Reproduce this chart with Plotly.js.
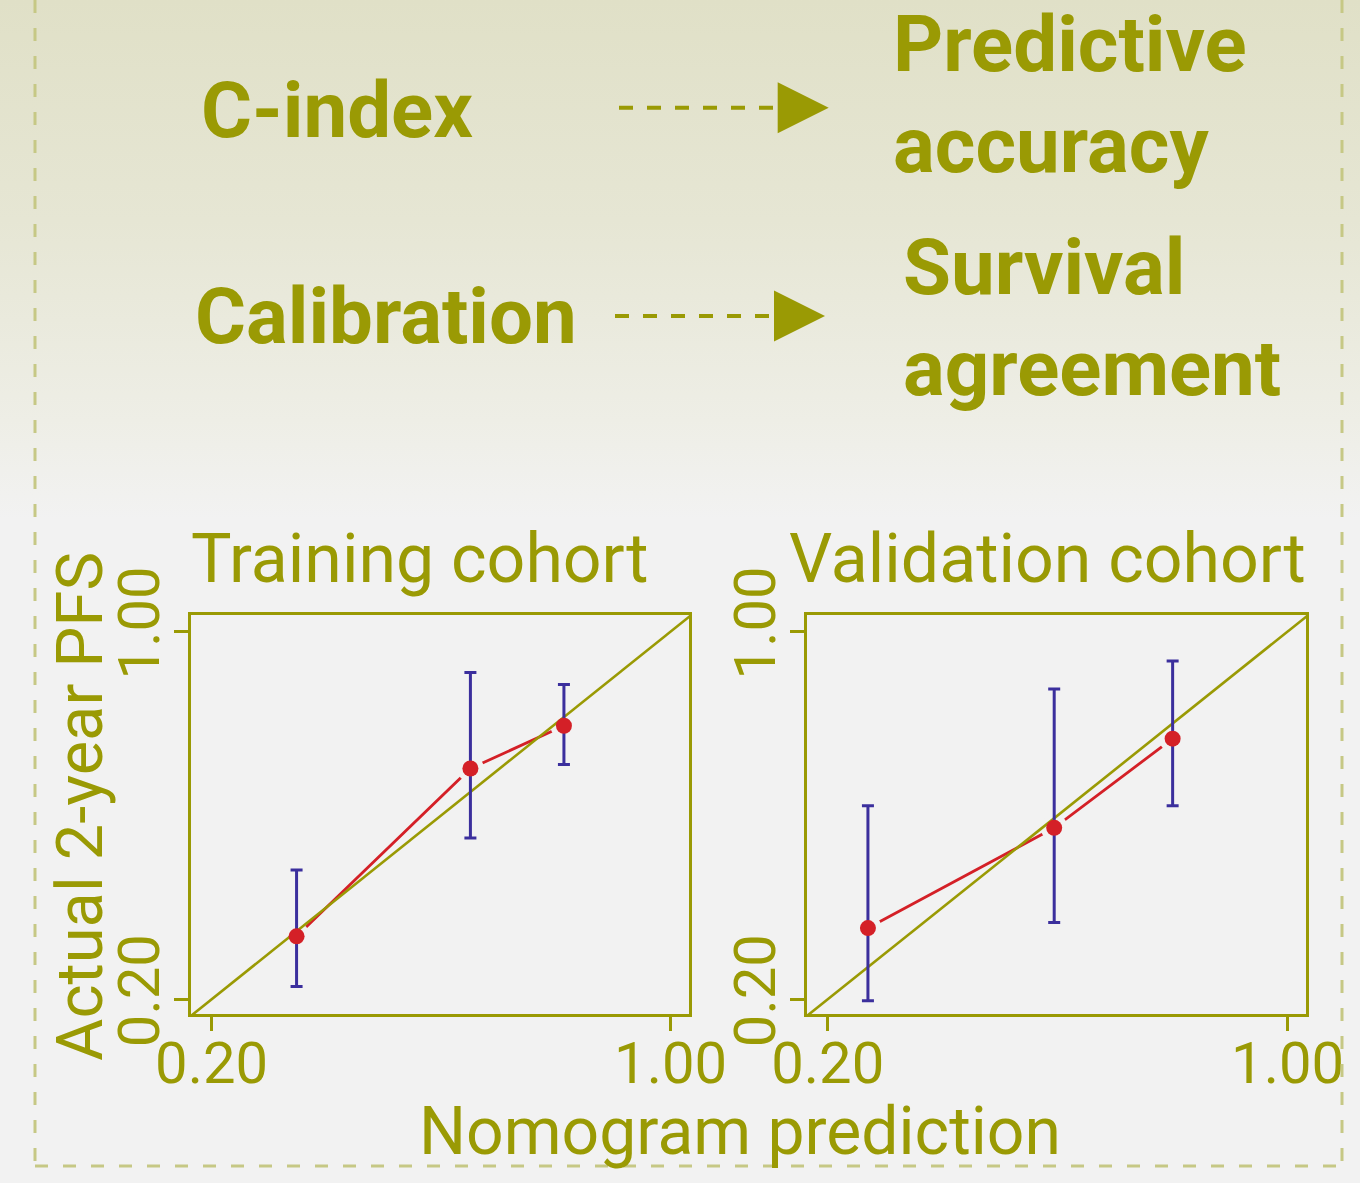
<!DOCTYPE html>
<html><head><meta charset="utf-8">
<script src="https://cdn.plot.ly/plotly-3.0.1.min.js"></script>
<style>
html,body{margin:0;padding:0;}
body{width:1360px;height:1183px;background:linear-gradient(to bottom,#e0e0c7 0px,#e6e6d4 220px,#eeeee6 420px,#f2f2f2 520px,#f2f2f2 100%);}
#chart{width:1360px;height:1183px;}
</style></head><body><div id="chart"></div>
<script>
// ---- data ----
const cohortTitles = ["Training cohort", "Validation cohort"];
const trainPred = [0.348, 0.651, 0.814];
const trainObs  = [0.337, 0.702, 0.795];
const trainLow  = [0.228, 0.551, 0.711];
const trainHigh = [0.481, 0.911, 0.885];
const validPred = [0.270, 0.594, 0.800];
const validObs  = [0.355, 0.573, 0.767];
const validLow  = [0.197, 0.367, 0.621];
const validHigh = [0.621, 0.875, 0.936];
const idealLine = [0, 1.1];
const tickVals = [0.2, 1.0];
const tickText = ["0.20", "1.00"];
const xTitle = "Nomogram prediction";
const yTitle = "Actual 2-year PFS";
const topLabels = ["C-index", "Calibration"];
const topResults = ["Predictive<br>accuracy", "Survival<br>agreement"];

// ---- style ----
const W = 1360, H = 1183;
const OLIVE = '#9a9a04', BLUE = '#3b2f9d', RED = '#d42027', BG = '#f2f2f2';
const BORDER = '#c6c885';
const FONT = 'Roboto, "Open Sans", sans-serif';
const px = x => x / W;
const py = y => 1 - y / H;

function cohortTraces(pred, obs, low, high, xa, ya) {
  return [
    {x: pred, y: obs, xaxis: xa, yaxis: ya, mode: 'lines', type: 'scatter',
     line: {color: RED, width: 2.8}, hoverinfo: 'skip'},
    {x: pred, y: obs, xaxis: xa, yaxis: ya, mode: 'markers', type: 'scatter',
     marker: {color: BG, size: 27}, hoverinfo: 'skip'},
    {x: idealLine, y: idealLine, xaxis: xa, yaxis: ya, mode: 'lines', type: 'scatter',
     line: {color: OLIVE, width: 2.6}, hoverinfo: 'skip'},
    {x: pred, y: obs, xaxis: xa, yaxis: ya, mode: 'markers', type: 'scatter',
     marker: {color: 'rgba(0,0,0,0)', size: 2},
     error_y: {type: 'data', symmetric: false,
       array: high.map((h, i) => h - obs[i]),
       arrayminus: low.map((l, i) => obs[i] - l),
       color: BLUE, thickness: 3, width: 6}},
    {x: pred, y: obs, xaxis: xa, yaxis: ya, mode: 'markers', type: 'scatter',
     marker: {color: RED, size: 16}}
  ];
}

const data = [
  ...cohortTraces(trainPred, trainObs, trainLow, trainHigh, 'x', 'y'),
  ...cohortTraces(validPred, validObs, validLow, validHigh, 'x2', 'y2')
];

const axisCommon = {
  tickvals: tickVals, ticktext: tickText,
  showgrid: false, zeroline: false,
  showline: true, linecolor: OLIVE, linewidth: 3, mirror: true,
  ticks: 'outside', ticklen: 14, tickwidth: 2.5, tickcolor: OLIVE,
  tickfont: {family: FONT, size: 58, color: OLIVE},
  automargin: false, fixedrange: true
};
const yDomain = [py(1014), py(615)];
const xRange = [0.164, 1.032];
const yRange = [0.168, 1.036];

const annotations = [
  {text: cohortTitles[0], x: px(420), y: py(559), xanchor: 'center', yanchor: 'middle'},
  {text: cohortTitles[1], x: px(1047), y: py(559), xanchor: 'center', yanchor: 'middle'},
  {text: xTitle, x: px(740), y: py(1131), xanchor: 'center', yanchor: 'middle', size: 66},
  {text: yTitle, x: px(80), y: py(807), xanchor: 'center', yanchor: 'middle', textangle: -90, size: 65},
  {text: topLabels[0], x: px(199), y: py(111), xanchor: 'left', yanchor: 'middle', bold: true},
  {text: topLabels[1], x: px(193), y: py(316), xanchor: 'left', yanchor: 'middle', bold: true},
  {text: topResults[0], x: px(891), y: py(95), xanchor: 'left', yanchor: 'middle', bold: true},
  {text: topResults[1], x: px(901), y: py(318), xanchor: 'left', yanchor: 'middle', bold: true}
].map(a => ({
  text: a.bold ? a.text.split('<br>').map(s => '<b>' + s + '</b>').join('<br>') : a.text,
  x: a.x, y: a.y, xref: 'paper', yref: 'paper',
  xanchor: a.xanchor, yanchor: a.yanchor, align: 'left',
  textangle: a.textangle || 0, showarrow: false,
  font: {family: FONT, size: a.size || (a.bold ? 78 : 68), color: OLIVE}
}));

const dashLine = (x0, y0, x1, y1) => ({type: 'line', xref: 'paper', yref: 'paper',
  x0: px(x0), y0: py(y0), x1: px(x1), y1: py(y1),
  line: {color: OLIVE, width: 4, dash: '14px,14px'}});
const tri = (x, yc, w, h) => ({type: 'path', xref: 'paper', yref: 'paper',
  path: `M ${px(x)},${py(yc - h / 2)} L ${px(x)},${py(yc + h / 2)} L ${px(x + w)},${py(yc)} Z`,
  fillcolor: OLIVE, line: {width: 0}});
const borderLine = (x0, y0, x1, y1) => ({type: 'line', xref: 'paper', yref: 'paper',
  x0: px(x0), y0: py(y0), x1: px(x1), y1: py(y1),
  line: {color: BORDER, width: 3, dash: '13px,15px'}});

const shapes = [
  dashLine(619, 107.7, 776, 107.7), tri(777.7, 107.7, 51, 51),
  dashLine(615, 316, 772, 316), tri(774, 316, 51, 51),
  borderLine(35, 0, 35, 1166), borderLine(35, 1166, 1342, 1166), borderLine(1342, 0, 1342, 1166)
];

const layout = {
  width: W, height: H,
  margin: {l: 0, r: 0, t: 0, b: 0},
  paper_bgcolor: 'rgba(0,0,0,0)', plot_bgcolor: 'rgba(0,0,0,0)',
  showlegend: false,
  xaxis: {...axisCommon, domain: [px(191), px(689)], range: xRange, anchor: 'y', ticklabelstandoff: -18},
  yaxis: {...axisCommon, domain: yDomain, range: yRange, anchor: 'x', tickangle: -90, ticklabelstandoff: -8},
  xaxis2: {...axisCommon, domain: [px(807), px(1306)], range: xRange, anchor: 'y2', ticklabelstandoff: -18},
  yaxis2: {...axisCommon, domain: yDomain, range: yRange, anchor: 'x2', tickangle: -90, ticklabelstandoff: -8},
  annotations: annotations,
  shapes: shapes
};

Plotly.newPlot('chart', data, layout, {displayModeBar: false, staticPlot: true});
</script></body></html>
